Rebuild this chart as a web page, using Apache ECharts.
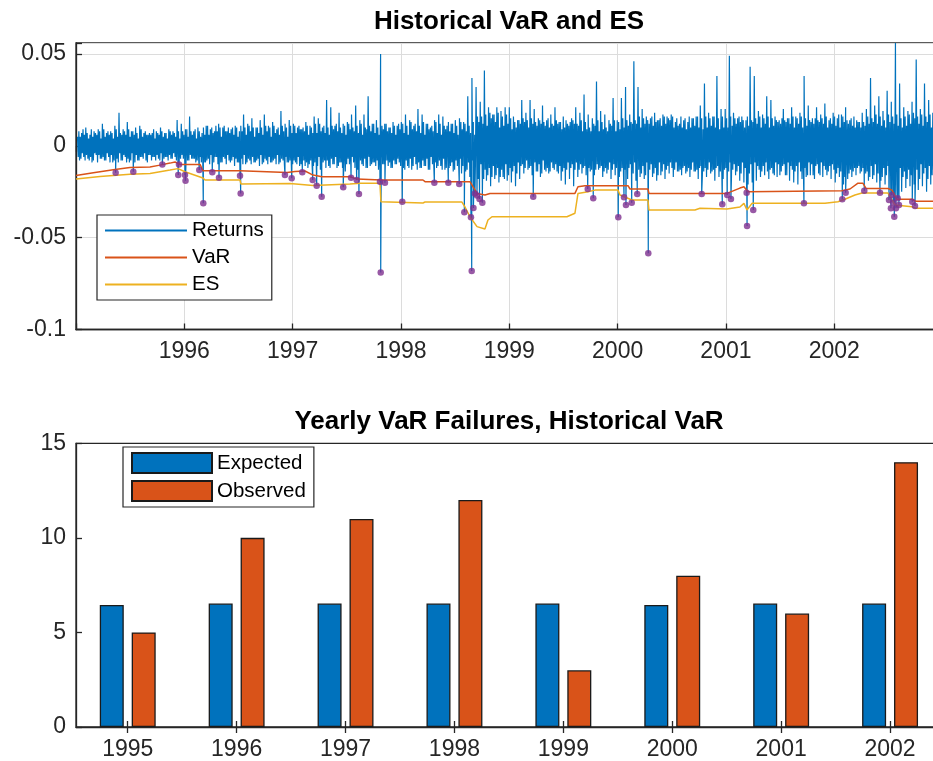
<!DOCTYPE html>
<html>
<head>
<meta charset="utf-8">
<title>Historical VaR and ES</title>
<script src="https://cdn.jsdelivr.net/npm/echarts@6/dist/echarts.min.js"></script>
<style>
  html, body { margin: 0; padding: 0; background: #ffffff; }
  #chart { width: 933px; height: 761px; }
</style>
</head>
<body>
<div id="chart"></div>
<script>
// Weekly extreme daily return (per mille), one per week starting 1995-01-06;
// the extreme alternates between the week's high and the next week's low.
const weeklyReturnsPermille = [
  // 1995
  5,-8,7,-6,10,-7,6,-9,8,-5,9,-7,12,-8,7,-6,8,-9,11,-7,18,-8,9,-6,13,-9,8,-7,10,-8,11,-6,7,-8,6,-5,7,-6,8,-7,10,-7,7,-6,9,-7,8,-6,14,-8,12,-7,
  // 1996
  9,-8,16,-7,8,-9,10,-6,7,-9,11,-7,9,-8,8,-6,12,-9,10,-7,8,-8,9,-6,11,-9,8,-7,17,-10,12,-8,15,-9,10,-7,14,-10,17,-8,11,-9,13,-7,9,-10,19,-8,12,-9,14,-10,
  // 1997
  12,-9,10,-11,9,-8,13,-12,11,-10,16,-9,15,-13,10,-8,25,-11,21,-10,11,-12,18,-9,12,-14,13,-10,17,-9,22,-13,14,-10,17,-12,27,-11,12,-9,14,-13,50,-10,12,-8,10,-12,13,-10,11,-9,
  // 1998
  13,-12,17,-11,14,-13,11,-10,20,-12,17,-11,12,-13,10,-10,14,-12,17,-11,16,-13,11,-12,12,-14,14,-11,15,-15,13,-14,27,-17,37,-16,32,-18,24,-20,41,-19,21,-22,17,-18,21,-20,19,-17,21,-19,
  // 1999
  21,-20,16,-22,14,-18,25,-15,18,-13,25,-16,20,-14,15,-17,22,-13,14,-15,17,-12,21,-14,13,-19,16,-21,12,-18,15,-22,21,-17,18,-15,28,-16,17,-14,15,-16,35,-13,19,-17,17,-15,14,-18,26,-16,
  // 2000
  14,-17,26,-15,32,-18,17,-16,46,-19,32,-17,20,-18,16,-20,15,-17,18,-19,14,-16,17,-18,16,-15,17,-17,13,-14,12,-16,14,-15,13,-17,15,-14,16,-18,22,-16,34,-17,18,-15,16,-19,38,-17,20,-18,
  // 2001
  20,-17,49,-18,18,-16,15,-19,16,-20,14,-21,43,-20,38,-19,19,-17,17,-16,27,-18,25,-15,16,-17,14,-14,20,-16,15,-19,21,-20,16,-21,18,-18,38,-17,22,-16,15,-18,21,-15,17,-17,23,-16,14,-18,
  // 2002
  18,-20,15,-17,17,-21,21,-18,14,-17,16,-16,13,-15,18,-17,20,-19,37,-18,22,-20,27,-19,19,-21,30,-20,24,-22,56,-24,34,-25,21,-23,19,-22,24,-21,47,-24,20,-22,34,-25,25,-21,18,-23,16,-20,14
];

// Intra-week daily returns, two per week: magnitude in per mille written as base-36 digits.
// The first swings against the week's extreme, the second back with it.
const innerReturnsBase36 = [
  /* 1995 */ '6857 4968 5748 6958 4769 5847 6958 4869 5748 6959 4768 5869 7958 4869 5748 6957 4869 5768 6948 5768 4857 6748 5867 4758 6847 5867',
  /* 1996 */ '6958 5867 7948 6859 7a69 8b6a 5a79 6b8a 7a59 6b8a 5a79 8a6b 7a59 6b8a 5a69 7b8a 6a59 8a7b 5a69 7b8a 6a59 8b7a 5a69 7b8a 6a59 8b7a',
  /* 1997 */ '8b7a 6b9a 7a8b 9b6a 8a7b 9c7b 6c8a 9b7c 8a6c 7b9a 6c8b 9a7c 8b6a 7c9b 6a8c 9b7a 8c6b 7a9c 6b8a 9c7b 8a6c 7b9a 6c8b 9a7c 8b6a 7c9b',
  /* 1998 */ '9c7d 8b6c 7d9b 6c8d 9b7c 8d6b 7c9d 6b8c 9d7b 8c6d 7b9c 6d8b 9c7d 8b6c 7d9b 6c8d 9b7c 8d6b bgdh agci dhbg cifh bhdg ciah dgbi ahcg',
  /* 1999 */ 'cf9e bdaf 9ecb afdc 8eac bfcd 9dbe aecf 8dbe cfae 9cbd aecf bd9e caed 9bdc aecd 9cbd ae8c bd9e ca8d 9cbd ae8c bd9e ca8d 9cbd ae8c',
  /* 2000 */ 'bd9e cfad 9ebc adcf 9ecb dgaf bfcg 9ecd agbf cdeg 9fbe agcd bfe9 cgad 9fbe dgac bf9e cgad 9fbe dgac bf9e cgad 9fbe dgac bf9e cgad',
  /* 2001 */ 'cfae 9gbd afce bgdf 9eac cgbf aedg 9fcb dgae bfc9 egad cfbg 9eda gcfb aedg 9fcb dgae bfc9 egad cfbg 9eda gcfb aedg 9fcb dgae bfca',
  /* 2002 */ 'dgbf chae bgdh aecf dfbe caec bdae cdbf egch bfdg ahcf dgbh ceag bhdf agce dhbg cfah egbi dhcg bifh dgci ahbf cgdi bhag dfci bgch ce'
];

// Days on which the loss exceeded the VaR (fractional year, return)
const failYears = [
  1995.366,1995.529,1995.797,1995.944,1995.951,
  1996.006,1996.011,1996.138,1996.175,1996.258,1996.320,1996.514,1996.520,1996.929,1996.991,
  1997.089,1997.185,1997.222,1997.268,1997.467,1997.539,1997.591,1997.612,1997.806,1997.813,1997.852,
  1998.012,1998.308,1998.437,1998.538,1998.585,1998.646,1998.653,1998.669,1998.683,1998.702,1998.725,1998.751,
  1999.221,1999.724,1999.775,
  2000.006,2000.059,2000.077,2000.130,2000.181,2000.283,2000.776,2000.966,
  2001.012,2001.046,2001.191,2001.195,2001.252,2001.720,
  2002.074,2002.105,2002.277,2002.422,2002.505,2002.523,2002.530,2002.544,2002.554,2002.569,2002.585,2002.597,2002.720,2002.745
];
const failValues = [
  -0.0146,-0.0141,-0.0101,-0.0159,-0.0101,
  -0.0159,-0.0190,-0.0132,-0.0313,-0.0144,-0.0174,-0.0163,-0.0259,-0.0159,-0.0177,
  -0.0144,-0.0186,-0.0217,-0.0277,-0.0226,-0.0174,-0.0186,-0.0262,-0.0195,-0.0689,-0.0201,
  -0.0304,-0.0201,-0.0201,-0.0208,-0.0362,-0.0389,-0.0682,-0.0339,-0.0259,-0.0271,-0.0290,-0.0310,
  -0.0277,-0.0235,-0.0286,
  -0.0389,-0.0280,-0.0322,-0.0310,-0.0262,-0.0585,-0.0262,-0.0318,
  -0.0268,-0.0290,-0.0255,-0.0437,-0.0349,-0.0313,
  -0.0291,-0.0255,-0.0244,-0.0255,-0.0295,-0.0340,-0.0268,-0.0310,-0.0386,-0.0340,-0.0286,-0.0322,-0.0304,-0.0328
];

// Historical VaR level (fractional year, value)
const varYears = [
  1995.000,1995.175,1995.360,1995.498,1995.683,1995.775,1995.868,1995.914,1995.960,1996.145,1996.172,1996.514,1996.523,1996.948,
  1997.022,1997.114,1997.188,1997.271,1997.529,1997.594,1997.815,1998.203,1998.222,1998.637,1998.702,1998.775,1998.822,
  1999.606,1999.634,1999.699,2000.096,2000.114,2000.280,2000.289,2001.009,2001.129,2001.166,2001.203,
  2002.071,2002.145,2002.219,2002.265,2002.293,2002.496,2002.533,2002.579,2002.717,2002.754,2002.995
];
const varValues = [
  -0.0162,-0.0145,-0.0129,-0.0118,-0.0115,-0.0105,-0.0094,-0.0088,-0.0101,-0.0101,-0.0136,-0.0136,-0.0144,-0.0145,
  -0.0140,-0.0137,-0.0159,-0.0168,-0.0168,-0.0181,-0.0186,-0.0186,-0.0195,-0.0195,-0.0259,-0.0268,-0.0259,
  -0.0259,-0.0223,-0.0217,-0.0217,-0.0235,-0.0235,-0.0259,-0.0259,-0.0230,-0.0223,-0.0250,
  -0.0244,-0.0235,-0.0203,-0.0204,-0.0232,-0.0232,-0.0241,-0.0291,-0.0291,-0.0302,-0.0302
];

// Expected shortfall (fractional year, value)
const esYears = [
  1995.000,1995.222,1995.498,1995.683,1995.868,1995.942,1996.006,1996.172,1996.191,1996.514,1996.523,1996.975,
  1997.188,1997.529,1997.622,1997.806,1997.815,1998.203,1998.222,1998.563,1998.591,1998.637,1998.702,1998.775,1998.803,1998.840,
  1999.532,1999.606,1999.634,1999.726,1999.791,2000.003,2000.022,2000.132,2000.280,2000.289,2000.714,2000.760,
  2001.009,2001.129,2001.166,2001.194,2001.240,2001.914,2002.034,2002.098,2002.191,2002.256,2002.496,2002.560,2002.717,2002.754,2002.995
];
const esValues = [
  -0.0181,-0.0167,-0.0154,-0.0151,-0.0132,-0.0124,-0.0141,-0.0175,-0.0186,-0.0186,-0.0208,-0.0205,
  -0.0216,-0.0208,-0.0204,-0.0204,-0.0304,-0.0311,-0.0306,-0.0306,-0.0333,-0.0386,-0.0440,-0.0453,-0.0404,-0.0386,
  -0.0386,-0.0367,-0.0259,-0.0250,-0.0241,-0.0241,-0.0268,-0.0295,-0.0295,-0.0349,-0.0349,-0.0340,
  -0.0344,-0.0333,-0.0313,-0.0349,-0.0313,-0.0313,-0.0304,-0.0291,-0.0268,-0.0257,-0.0257,-0.0322,-0.0332,-0.0340,-0.0340
];

// Yearly failure counts
const barYears = [1995, 1996, 1997, 1998, 1999, 2000, 2001, 2002];
const expectedFailures = [6.45, 6.53, 6.53, 6.53, 6.53, 6.45, 6.53, 6.53];
const observedFailures = [5, 10, 11, 12, 3, 8, 6, 14];

// Year tick labels of the returns panel
const returnYearLabels = [1996, 1997, 1998, 1999, 2000, 2001, 2002];

// ---- series data ----
const DAY = 1 / 365.25;
const weekYear = k => 1995 + (5 + 7 * k) * DAY;
const innerMagnitudes = innerReturnsBase36.join('').replace(/\s/g, '').split('').map(c => parseInt(c, 36));

const returnsLine = [];
weeklyReturnsPermille.forEach((v, k) => {
  const t = weekYear(k);
  const s = v >= 0 ? 1 : -1;
  returnsLine.push([t, v / 1000]);
  returnsLine.push([t + (7 / 3) * DAY, -s * innerMagnitudes[2 * k] / 1000]);
  returnsLine.push([t + (14 / 3) * DAY, s * innerMagnitudes[2 * k + 1] / 1000]);
});
failYears.forEach((y, i) => returnsLine.push([y, failValues[i]]));
returnsLine.sort((a, b) => a[0] - b[0]);

const failPoints = failYears.map((y, i) => [y, failValues[i]]);
const varLine = varYears.map((y, i) => [y, varValues[i]]);
const esLine = esYears.map((y, i) => [y, esValues[i]]);

const AX = '#262626';
const FONT = "'Liberation Sans', Arial, Helvetica, sans-serif";
const TICK_FS = 23;
const LEG_FS = 20.5;

const chart = echarts.init(document.getElementById('chart'), null, { renderer: 'canvas' });

const axisLine = { show: true, onZero: false, lineStyle: { color: AX, width: 1.3 } };
const tickIn = { show: true, inside: true, length: 6, lineStyle: { color: AX, width: 1.3 } };

chart.setOption({
  animation: false,
  backgroundColor: '#ffffff',
  textStyle: { fontFamily: FONT },
  graphic: [
    { type: 'text', x: 509, y: 22, style: { text: 'Historical VaR and ES', fill: '#000', font: 'bold 26px ' + FONT, textAlign: 'center', textVerticalAlign: 'middle' } },
    { type: 'text', x: 509, y: 422, style: { text: 'Yearly VaR Failures, Historical VaR', fill: '#000', font: 'bold 26px ' + FONT, textAlign: 'center', textVerticalAlign: 'middle' } }
  ],
  grid: [
    { left: 76, top: 43, width: 866.6, height: 286.5, show: true, borderColor: AX, borderWidth: 1.3, backgroundColor: 'transparent', outerBoundsMode: 'none', containLabel: false },
    { left: 76, top: 443.3, width: 865.8, height: 283.7, show: true, borderColor: AX, borderWidth: 1.3, backgroundColor: 'transparent', outerBoundsMode: 'none', containLabel: false }
  ],
  legend: [
    {
      data: ['Returns', 'VaR', 'ES'],
      orient: 'vertical', left: 97, top: 215,
      icon: 'rect',
      itemWidth: 82, itemHeight: 2, itemGap: 6,
      padding: [5, 8, 5, 8],
      backgroundColor: '#ffffff', borderColor: AX, borderWidth: 1.2, borderRadius: 0,
      textStyle: { fontSize: LEG_FS, color: '#000', fontFamily: FONT },
      selectedMode: false
    },
    {
      data: ['Expected', 'Observed'],
      orient: 'vertical', left: 123, top: 447,
      itemWidth: 80, itemHeight: 20, itemGap: 6,
      padding: [5, 8, 5, 8],
      icon: 'rect',
      backgroundColor: '#ffffff', borderColor: AX, borderWidth: 1.2, borderRadius: 0,
      textStyle: { fontSize: LEG_FS, color: '#000', fontFamily: FONT },
      selectedMode: false
    }
  ],
  xAxis: [
    {
      type: 'value', gridIndex: 0, min: 1995, max: 2003, interval: 1,
      axisLine: axisLine, axisTick: tickIn,
      axisLabel: {
        color: AX, fontSize: TICK_FS, fontFamily: FONT, margin: 11,
        formatter: v => {
          const r = Math.round(v);
          return (Math.abs(v - r) < 1e-6 && returnYearLabels.indexOf(r) >= 0) ? String(r) : '';
        }
      },
      splitLine: { show: true, lineStyle: { color: '#dcdcdc', width: 1 } }
    },
    {
      type: 'value', gridIndex: 0, position: 'top', min: 1995, max: 2003, interval: 1,
      axisLine: { show: false }, axisTick: tickIn, axisLabel: { show: false }, splitLine: { show: false }
    },
    {
      type: 'value', gridIndex: 1, min: 1994.525, max: 2002.475,
      axisLine: axisLine,
      axisTick: Object.assign({}, tickIn, { customValues: barYears }),
      axisLabel: { color: AX, fontSize: TICK_FS, fontFamily: FONT, margin: 11, customValues: barYears, formatter: v => String(Math.round(v)) },
      splitLine: { show: false }
    },
    {
      type: 'value', gridIndex: 1, position: 'top', min: 1994.525, max: 2002.475,
      axisLine: { show: false },
      axisTick: Object.assign({}, tickIn, { customValues: barYears }),
      axisLabel: { show: false, customValues: barYears }, splitLine: { show: false }
    }
  ],
  yAxis: [
    {
      type: 'value', gridIndex: 0, min: -0.1, max: 0.056, interval: 0.05,
      axisLine: axisLine, axisTick: tickIn,
      axisLabel: {
        color: AX, fontSize: TICK_FS, fontFamily: FONT, margin: 10,
        formatter: v => (Math.abs(v * 20 - Math.round(v * 20)) > 1e-6) ? '' : String(Math.round(v * 100) / 100)
      },
      splitLine: { show: true, lineStyle: { color: '#dcdcdc', width: 1 } }
    },
    {
      type: 'value', gridIndex: 1, min: 0, max: 15, interval: 5,
      axisLine: axisLine, axisTick: tickIn,
      axisLabel: { color: AX, fontSize: TICK_FS, fontFamily: FONT, margin: 10 },
      splitLine: { show: false }
    }
  ],
  series: [
    {
      name: 'Returns', type: 'line', xAxisIndex: 0, yAxisIndex: 0,
      data: returnsLine, symbol: 'none', showSymbol: false, sampling: null,
      lineStyle: { color: '#0072BD', width: 1.2 }, itemStyle: { color: '#0072BD' }, z: 2
    },
    {
      name: 'VaR', type: 'line', xAxisIndex: 0, yAxisIndex: 0,
      data: varLine, symbol: 'none', showSymbol: false,
      lineStyle: { color: '#D95319', width: 1.5 }, itemStyle: { color: '#D95319' }, z: 3
    },
    {
      name: 'ES', type: 'line', xAxisIndex: 0, yAxisIndex: 0,
      data: esLine, symbol: 'none', showSymbol: false,
      lineStyle: { color: '#EDB120', width: 1.5 }, itemStyle: { color: '#EDB120' }, z: 3
    },
    {
      name: 'VaR failures', type: 'scatter', xAxisIndex: 0, yAxisIndex: 0,
      data: failPoints, symbol: 'circle', symbolSize: 6.5,
      itemStyle: { color: '#7E2F8E' }, z: 4
    },
    {
      name: 'Expected', type: 'bar', xAxisIndex: 2, yAxisIndex: 1,
      data: barYears.map((y, i) => [y, expectedFailures[i]]),
      barWidth: 24, barGap: '33%',
      itemStyle: { color: '#0072BD', borderColor: '#1a1a1a', borderWidth: 1.3 }
    },
    {
      name: 'Observed', type: 'bar', xAxisIndex: 2, yAxisIndex: 1,
      data: barYears.map((y, i) => [y, observedFailures[i]]),
      barWidth: 24, barGap: '33%',
      itemStyle: { color: '#D95319', borderColor: '#1a1a1a', borderWidth: 1.3 }
    }
  ]
});
</script>
</body>
</html>
